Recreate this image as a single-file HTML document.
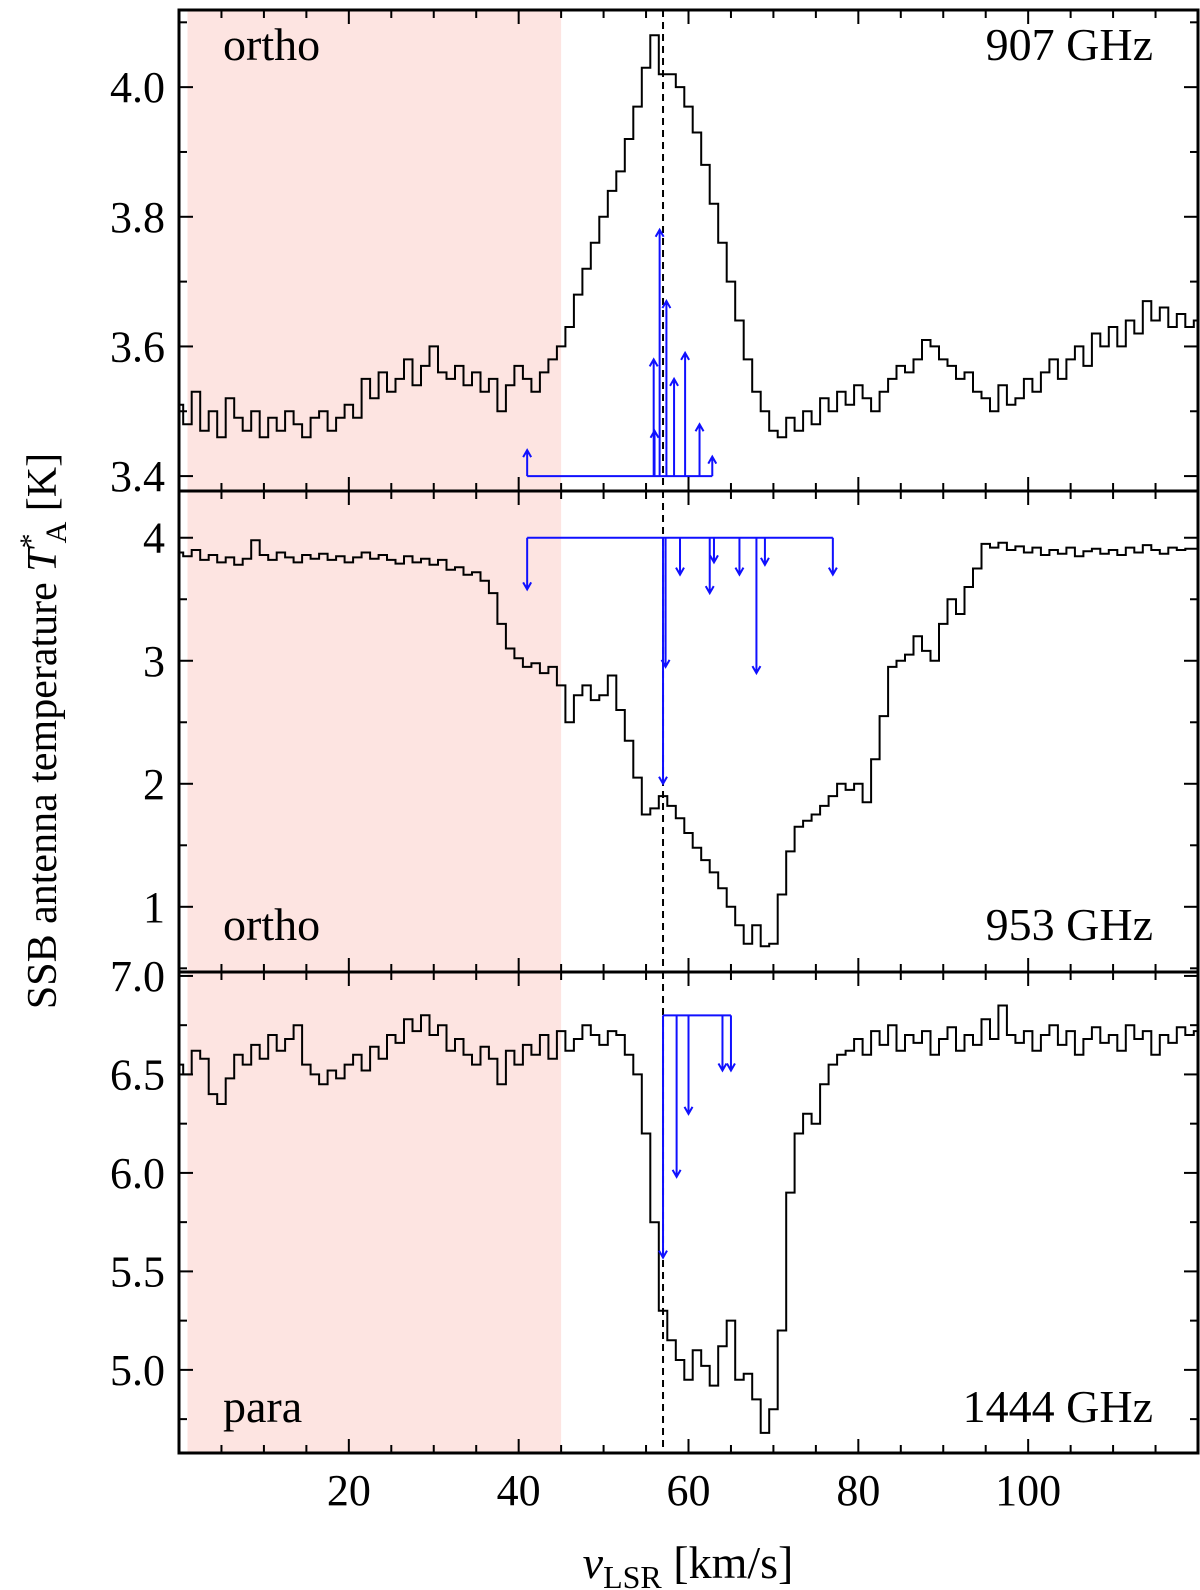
<!DOCTYPE html>
<html><head><meta charset="utf-8"><style>
html,body{margin:0;padding:0;background:#fff}
svg{display:block}
text{font-family:"Liberation Serif",serif;fill:#000}
</style></head><body>
<svg id="c" width="1200" height="1590" viewBox="0 0 1200 1590" xmlns="http://www.w3.org/2000/svg"></svg>
<script>
const velocities = Array.from({length:121},(_,i)=>i);
const spec907 = [3.51,3.48,3.53,3.47,3.50,3.46,3.52,3.49,3.47,3.50,3.46,3.49,3.47,3.50,3.48,3.46,3.49,3.50,3.47,3.49,3.51,3.49,3.55,3.52,3.56,3.53,3.55,3.58,3.54,3.57,3.60,3.56,3.55,3.57,3.54,3.56,3.53,3.55,3.50,3.54,3.57,3.55,3.53,3.56,3.58,3.60,3.63,3.68,3.72,3.76,3.80,3.84,3.87,3.92,3.97,4.03,4.08,4.02,4.02,4.00,3.97,3.93,3.88,3.82,3.76,3.70,3.64,3.58,3.53,3.50,3.47,3.46,3.49,3.47,3.50,3.48,3.52,3.50,3.53,3.51,3.54,3.52,3.50,3.53,3.55,3.57,3.56,3.58,3.61,3.60,3.58,3.57,3.55,3.56,3.53,3.52,3.50,3.54,3.51,3.52,3.55,3.53,3.56,3.58,3.55,3.58,3.60,3.57,3.62,3.60,3.63,3.60,3.64,3.62,3.67,3.64,3.66,3.63,3.65,3.63,3.64];
const spec953 = [3.88,3.85,3.90,3.82,3.86,3.80,3.84,3.78,3.83,3.98,3.86,3.82,3.88,3.84,3.80,3.86,3.83,3.87,3.82,3.85,3.80,3.84,3.88,3.83,3.86,3.82,3.79,3.85,3.80,3.83,3.78,3.82,3.74,3.76,3.70,3.72,3.65,3.55,3.30,3.10,3.02,2.95,2.98,2.90,2.95,2.80,2.50,2.72,2.80,2.68,2.72,2.88,2.60,2.35,2.05,1.75,1.80,1.90,1.82,1.72,1.60,1.48,1.38,1.28,1.15,1.00,0.85,0.70,0.85,0.68,0.70,1.10,1.45,1.65,1.70,1.75,1.82,1.90,2.00,1.95,2.00,1.85,2.20,2.55,2.95,3.00,3.05,3.20,3.08,3.00,3.30,3.50,3.38,3.60,3.75,3.95,3.92,3.96,3.90,3.93,3.88,3.92,3.86,3.90,3.87,3.92,3.85,3.89,3.91,3.87,3.90,3.86,3.92,3.88,3.94,3.90,3.87,3.92,3.90,3.91,3.91];
const spec1444 = [6.55,6.50,6.62,6.58,6.40,6.35,6.48,6.60,6.55,6.65,6.58,6.70,6.62,6.68,6.75,6.55,6.50,6.45,6.52,6.48,6.55,6.60,6.52,6.64,6.58,6.70,6.66,6.78,6.72,6.80,6.70,6.75,6.62,6.68,6.60,6.55,6.64,6.58,6.45,6.62,6.55,6.65,6.60,6.70,6.58,6.72,6.62,6.68,6.75,6.70,6.65,6.72,6.70,6.60,6.50,6.20,5.75,5.30,5.15,5.05,4.95,5.10,5.02,4.92,5.12,5.25,4.95,4.98,4.85,4.68,4.80,5.20,5.90,6.20,6.30,6.25,6.45,6.55,6.60,6.62,6.68,6.60,6.72,6.65,6.75,6.62,6.70,6.66,6.72,6.60,6.68,6.74,6.62,6.70,6.65,6.78,6.68,6.85,6.70,6.66,6.72,6.62,6.70,6.75,6.65,6.72,6.60,6.68,6.74,6.66,6.70,6.62,6.75,6.68,6.72,6.60,6.70,6.66,6.74,6.70,6.72];
const arrows907V = [41.0,55.9,56.0,56.6,57.4,58.3,59.6,61.3,62.8];
const arrows907T = [3.44,3.58,3.47,3.78,3.67,3.55,3.59,3.48,3.43];
const arrows953V = [41.0,57.0,57.3,59.0,62.5,63.0,66.0,68.0,69.0,77.0];
const arrows953T = [3.58,2.00,2.95,3.70,3.55,3.80,3.70,2.90,3.78,3.70];
const arrows1444V = [57.0,58.6,60.0,64.0,65.0];
const arrows1444T = [5.57,5.98,6.30,6.52,6.52];
const xTicks = [20,40,60,80,100];

const NS="http://www.w3.org/2000/svg";
const svg=document.getElementById('c');
const X0=179,X1=1198,VMIN=0,VMAX=120;
const xs=v=>X0+(v-VMIN)/(VMAX-VMIN)*(X1-X0);
function mk(tag,attrs,parent){const e=document.createElementNS(NS,tag);for(const k in attrs)e.setAttribute(k,attrs[k]);(parent||svg).appendChild(e);return e;}

const panels=[
 {top:10,bot:491,ymin:3.377,ymax:4.119,data:spec907,maj:[3.4,3.6,3.8,4.0],lab:["3.4","3.6","3.8","4.0"],minStep:0.1,av:arrows907V,at:arrows907T,base:3.40,up:true,left:"ortho",right:"907 GHz",ly:60,name:"907"},
 {top:491,bot:972,ymin:0.47,ymax:4.38,data:spec953,maj:[1,2,3,4],lab:["1","2","3","4"],minStep:0.5,av:arrows953V,at:arrows953T,base:4.0,up:false,left:"ortho",right:"953 GHz",ly:940,name:"953"},
 {top:972,bot:1453,ymin:4.578,ymax:7.02,data:spec1444,maj:[5.0,5.5,6.0,6.5,7.0],lab:["5.0","5.5","6.0","6.5","7.0"],minStep:0.25,av:arrows1444V,at:arrows1444T,base:6.8,up:false,left:"para",right:"1444 GHz",ly:1422,name:"1444"}
];

panels.forEach((p,pi)=>{
 const ys=t=>p.bot-(t-p.ymin)/(p.ymax-p.ymin)*(p.bot-p.top);
 const g=mk('g',{});
 
 
 const sh=mk('rect',{x:xs(1),y:p.top,width:xs(45)-xs(1),height:p.bot-p.top,fill:'#fde4e1'},g);
 
 
 let d='';
 p.data.forEach((t,i)=>{const v=velocities[i];const a=Math.max(VMIN,v-0.5),b=Math.min(VMAX,v+0.5);
   d+=(i===0?'M':'L')+xs(a).toFixed(1)+','+ys(t).toFixed(1)+'L'+xs(b).toFixed(1)+','+ys(t).toFixed(1);});
 const ln=mk('path',{d:d,fill:'none',stroke:'#000','stroke-width':2,'stroke-linejoin':'miter'},g);
 
 
 const dl=mk('line',{x1:xs(57),x2:xs(57),y1:p.top,y2:p.bot,stroke:'#000','stroke-width':2,'stroke-dasharray':'7,5'},g);
 
 
 const ag=mk('g',{stroke:'#1010ff','stroke-width':2,fill:'none'},g);
 
 
 const vmin=Math.min(...p.av),vmax=Math.max(...p.av);
 mk('line',{x1:xs(vmin),x2:xs(vmax),y1:ys(p.base),y2:ys(p.base)},ag);
 p.av.forEach((v,i)=>{const x=xs(v),y0=ys(p.base),y1=ys(p.at[i]);
  const a=mk('path',{d:`M${x},${y0}L${x},${y1}M${x-4},${y1+(p.up?7:-7)}L${x},${y1}L${x+4},${y1+(p.up?7:-7)}`},ag);
  
  
 });
 const tk=mk('g',{stroke:'#000','stroke-width':2},g);
 for(let v=5;v<VMAX;v+=5){const L=v%20===0?14:8;
  mk('line',{x1:xs(v),x2:xs(v),y1:p.bot,y2:p.bot-L},tk);
  mk('line',{x1:xs(v),x2:xs(v),y1:p.top,y2:p.top+L},tk);}
 const s0=Math.ceil(p.ymin/p.minStep)*p.minStep;
 for(let t=s0;t<=p.ymax+1e-9;t+=p.minStep){const isM=p.maj.some(m=>Math.abs(m-t)<1e-6);const L=isM?14:8;const y=ys(t);
  mk('line',{x1:X0,x2:X0+L,y1:y,y2:y},tk);mk('line',{x1:X1,x2:X1-L,y1:y,y2:y},tk);}
 p.maj.forEach((m,i)=>{const t=mk('text',{x:X0-14,y:ys(m)+15,'font-size':44,'text-anchor':'end'},g);t.textContent=p.lab[i];
  
  });
 const l1=mk('text',{x:223,y:p.ly,'font-size':46},g);l1.textContent=p.left;
 
 
 const l2=mk('text',{x:1153,y:p.ly,'font-size':46,'text-anchor':'end'},g);l2.textContent=p.right;
 
 
 const fr=mk('rect',{x:X0,y:p.top,width:X1-X0,height:p.bot-p.top,fill:'none',stroke:'#000','stroke-width':3},g);
 
 
});

xTicks.forEach(v=>{const t=mk('text',{x:xs(v),y:1505,'font-size':44,'text-anchor':'middle'});t.textContent=v;
 
 });

const xt=mk('text',{x:688,y:1578,'font-size':46,'text-anchor':'middle'});


xt.innerHTML='<tspan font-style="italic">v</tspan><tspan font-size="32" dy="10">LSR</tspan><tspan dy="-10"> [km/s]</tspan>';

const yt=mk('text',{x:0,y:0,'font-size':42,'text-anchor':'middle',transform:'translate(56,731) rotate(-90)'});


yt.innerHTML='SSB antenna temperature <tspan font-style="italic">T</tspan><tspan font-size="30" dy="-16">*</tspan><tspan font-size="30" dx="-10" dy="26">A</tspan><tspan dy="-10"> [K]</tspan>';
</script>
</body></html>
